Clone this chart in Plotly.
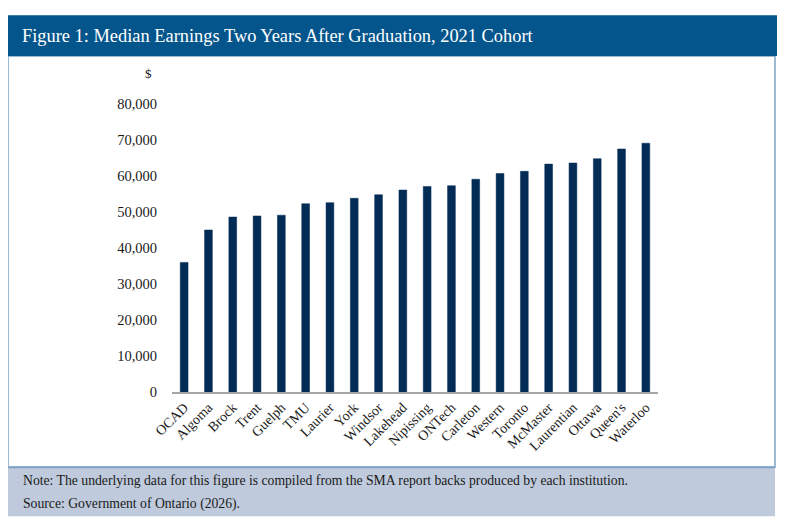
import plotly.graph_objects as go

schools = ["OCAD", "Algoma", "Brock", "Trent", "Guelph", "TMU", "Laurier", "York",
           "Windsor", "Lakehead", "Nipissing", "ONTech", "Carleton", "Western",
           "Toronto", "McMaster", "Laurentian", "Ottawa", "Queen's", "Waterloo"]
earnings = [36000, 45000, 48600, 48900, 49100, 52300, 52600, 53800,
            54800, 56100, 57100, 57300, 59100, 60700,
            61300, 63300, 63600, 64800, 67500, 69100]
y_ticks = [0, 10000, 20000, 30000, 40000, 50000, 60000, 70000, 80000]

title = "Figure 1: Median Earnings Two Years After Graduation, 2021 Cohort"
note = "Note: The underlying data for this figure is compiled from the SMA report backs produced by each institution."
source = "Source: Government of Ontario (2026)."

# page body has an 8px margin, so the figure sits at (8, 8) in the window
OFF = 8
W, H = 800 - 2 * OFF, 528 - 2 * OFF
L, T = 172 - OFF, 104 - OFF
R = W - (658 - OFF)
B = H - (392.5 - OFF)
SERIF = "Liberation Serif, Times New Roman, serif"


# window pixel -> paper helpers for the frame around the chart
def px(x):
    return (x - OFF - L) / (W - L - R)


def py(y):
    return (H - B - (y - OFF)) / (H - T - B)


fig = go.Figure(go.Bar(
    x=schools,
    y=earnings,
    marker=dict(color="#022b55", line=dict(color="#022b55", width=0.5)),
    hovertemplate="%{x}: $%{y:,}<extra></extra>",
))

fig.update_layout(
    width=W, height=H,
    margin=dict(l=L, r=R, t=T, b=B),
    paper_bgcolor="white",
    plot_bgcolor="white",
    bargap=0.68,
    showlegend=False,
    font=dict(family=SERIF, size=14, color="#1a1a1a"),
    xaxis=dict(
        tickangle=-45,
        showline=True, linecolor="#a6a6a6", linewidth=1.5,
        showgrid=False, ticks="", tickfont=dict(size=14),
    ),
    yaxis=dict(
        range=[0, 80000],
        tickvals=y_ticks,
        tickformat=",",
        showgrid=False, zeroline=False, showline=False,
        ticks="", ticklabelstandoff=14,
        tickfont=dict(size=14.5),
    ),
    shapes=[
        # white panel with light blue border
        dict(type="rect", xref="paper", yref="paper",
             x0=px(8), x1=px(775), y0=py(56), y1=py(468),
             line=dict(color="#7fa3c4", width=1.5), fillcolor="rgba(0,0,0,0)", layer="below"),
        # header bar
        dict(type="rect", xref="paper", yref="paper",
             x0=px(8), x1=px(777), y0=py(15), y1=py(56),
             line=dict(width=0), fillcolor="#03558c"),
        # footer
        dict(type="rect", xref="paper", yref="paper",
             x0=px(8), x1=px(775), y0=py(468), y1=py(517),
             line=dict(width=0), fillcolor="#bfcadc"),
        dict(type="line", xref="paper", yref="paper",
             x0=px(8), x1=px(775), y0=py(468), y1=py(468),
             line=dict(color="#7fa3c4", width=2)),
    ],
    annotations=[
        dict(text=title, xref="paper", yref="paper", x=px(20), y=py(36),
             xanchor="left", yanchor="middle", showarrow=False,
             font=dict(family=SERIF, size=18.4, color="white")),
        dict(text="$", xref="paper", yref="paper", x=px(148), y=py(73),
             xanchor="center", yanchor="middle", showarrow=False,
             font=dict(family=SERIF, size=13)),
        dict(text=note, xref="paper", yref="paper", x=px(21), y=py(481),
             xanchor="left", yanchor="middle", showarrow=False,
             font=dict(family=SERIF, size=13.7)),
        dict(text=source, xref="paper", yref="paper", x=px(21), y=py(505),
             xanchor="left", yanchor="middle", showarrow=False,
             font=dict(family=SERIF, size=13.7)),
    ],
)

fig.write_html("out.html")
